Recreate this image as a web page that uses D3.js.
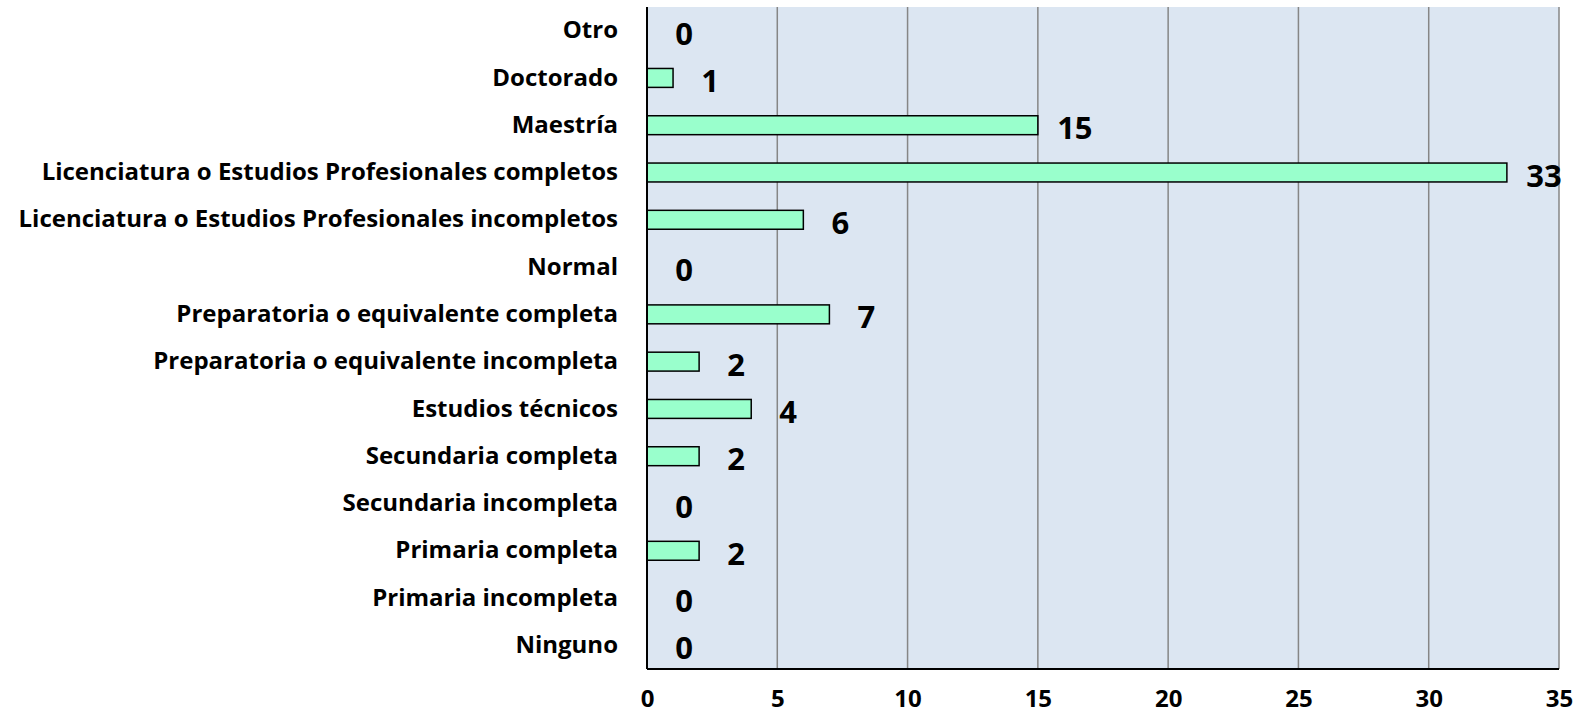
<!DOCTYPE html>
<html>
<head>
<meta charset="utf-8">
<script src="https://cdn.jsdelivr.net/npm/d3@7"></script>
<style>
  html, body { margin: 0; padding: 0; background: #ffffff; }
  svg { display: block; }
  text { font-family: "Open Sans", "Liberation Sans", sans-serif; font-weight: 700; fill: #000; }
</style>
</head>
<body>
<svg id="chart" width="1585" height="718"></svg>
<script>
const categories = [
  "Otro",
  "Doctorado",
  "Maestría",
  "Licenciatura o Estudios Profesionales completos",
  "Licenciatura o Estudios Profesionales incompletos",
  "Normal",
  "Preparatoria o equivalente completa",
  "Preparatoria o equivalente incompleta",
  "Estudios técnicos",
  "Secundaria completa",
  "Secundaria incompleta",
  "Primaria completa",
  "Primaria incompleta",
  "Ninguno"
];
const values = [0, 1, 15, 33, 6, 0, 7, 2, 4, 2, 0, 2, 0, 0];
const xTicks = [0, 5, 10, 15, 20, 25, 30, 35];

const svg = d3.select("#chart");
const margin = { left: 647, top: 7, right: 26, bottom: 49 };
const W = 1585, H = 718;
const innerW = W - margin.left - margin.right;
const innerH = H - margin.top - margin.bottom;

const x = d3.scaleLinear().domain([0, 35]).range([0, innerW]);
const y = d3.scaleBand().domain(categories).range([0, innerH]).paddingInner(0.6).paddingOuter(0.3);

const g = svg.append("g").attr("transform", `translate(${margin.left},${margin.top})`);

// plot background
g.append("rect")
  .attr("x", 0).attr("y", 0)
  .attr("width", innerW).attr("height", innerH)
  .attr("fill", "#DCE6F2");

// vertical gridlines
g.append("g")
  .selectAll("line")
  .data(xTicks.filter(t => t > 0))
  .join("line")
  .attr("x1", d => x(d)).attr("x2", d => x(d))
  .attr("y1", 0).attr("y2", innerH)
  .attr("stroke", "#868686")
  .attr("stroke-width", 1.5);

const rows = values.map((v, i) => ({ v, c: categories[i] }));

// bars
g.append("g")
  .selectAll("rect")
  .data(rows.filter(d => d.v > 0))
  .join("rect")
  .attr("x", x(0))
  .attr("y", d => y(d.c))
  .attr("width", d => x(d.v) - x(0))
  .attr("height", y.bandwidth())
  .attr("fill", "#99FFCC")
  .attr("stroke", "#000")
  .attr("stroke-width", 1.5);

// value labels
g.append("g")
  .selectAll("text")
  .data(rows)
  .join("text")
  .attr("x", d => x(d.v) + 37)
  .attr("y", d => y(d.c) + y.bandwidth() / 2 + 2)
  .attr("text-anchor", "middle")
  .attr("dominant-baseline", "central")
  .style("font-size", "31px")
  .text(d => d.v);

// category axis
const yAxis = d3.axisLeft(y).tickSize(0).tickPadding(29);
const ya = g.append("g").call(yAxis);
ya.select(".domain").remove();
ya.selectAll("text")
  .style("font-size", "24px")
  .style("font-family", "\"Open Sans\", sans-serif")
  .style("font-weight", 700)
  .attr("fill", "#000");

// x axis
const xAxis = d3.axisBottom(x).tickValues(xTicks).tickSize(0).tickPadding(21);
const xa = g.append("g").attr("transform", `translate(0,${innerH})`).call(xAxis);
xa.select(".domain").remove();
xa.selectAll("text")
  .style("font-size", "24px")
  .style("font-family", "\"Open Sans\", sans-serif")
  .style("font-weight", 700)
  .attr("fill", "#000");

// axis lines
g.append("line")
  .attr("x1", 0).attr("x2", 0).attr("y1", 0).attr("y2", innerH)
  .attr("stroke", "#000").attr("stroke-width", 2);
g.append("line")
  .attr("x1", 0).attr("x2", innerW).attr("y1", innerH).attr("y2", innerH)
  .attr("stroke", "#000").attr("stroke-width", 2);
</script>
</body>
</html>
